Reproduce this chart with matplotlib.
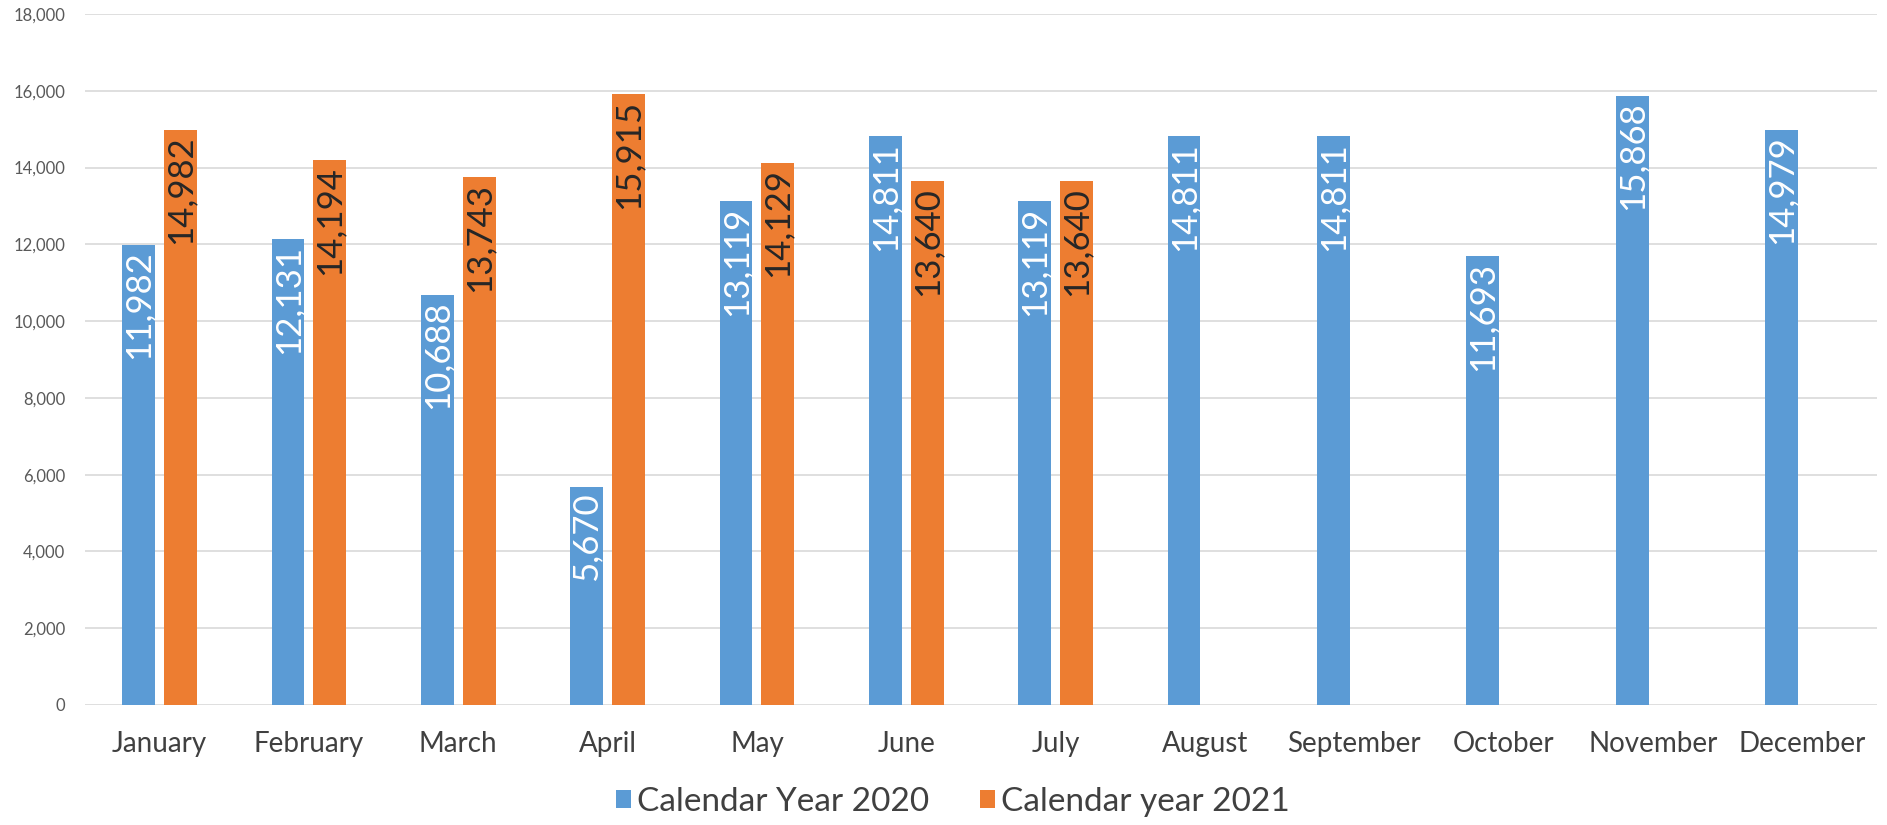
import numpy as np
import matplotlib
matplotlib.use("Agg")
import matplotlib.pyplot as plt

months = ["January", "February", "March", "April", "May", "June", "July",
          "August", "September", "October", "November", "December"]
year_2020 = [11982, 12131, 10688, 5670, 13119, 14811, 13119,
             14811, 14811, 11693, 15868, 14979]
year_2021 = [14982, 14194, 13743, 15915, 14129, 13640, 13640]
yticks = [0, 2000, 4000, 6000, 8000, 10000, 12000, 14000, 16000, 18000]

blue = "#5B9BD5"
orange = "#ED7D31"
grey_text = "#595959"

plt.rcParams['font.family'] = ['Lato', 'DejaVu Sans']

fig = plt.figure(figsize=(18.87, 8.25), dpi=100)
ax = fig.add_axes([0.045, 0.1455, 0.9497, 0.8375])

x = np.arange(len(months))
w = 0.22
b1 = ax.bar(x - 0.14, year_2020, width=w, color=blue, label="Calendar Year 2020", zorder=3)
b2 = ax.bar(x[:len(year_2021)] + 0.14, year_2021, width=w, color=orange,
            label="Calendar year 2021", zorder=3)

for bars, vals, col in [(b1, year_2020, "white"), (b2, year_2021, "#262626")]:
    for r, v in zip(bars, vals):
        ax.annotate(f"{v:,}", (r.get_x() + r.get_width() / 2, v),
                    xytext=(0, -4), textcoords="offset points",
                    ha="center", va="top", rotation=90,
                    fontsize=25, color=col, zorder=4)

ax.set_xlim(-0.5, len(months) - 0.5)
ax.set_ylim(0, 18000)
ax.set_yticks(yticks)
ax.set_yticklabels([f"{t:,}" for t in yticks], fontsize=12, color=grey_text)
ax.set_xticks(x)
ax.set_xticklabels(months, fontsize=20, color="#404040")
ax.tick_params(axis="both", length=0)
ax.tick_params(axis="x", pad=19)
ax.tick_params(axis="y", pad=14)
ax.grid(axis="y", color="#D9D9D9", linewidth=1.2, zorder=0)
for s in ax.spines.values():
    s.set_visible(False)

ax.legend(loc="center", bbox_to_anchor=(0.505, 0.028), bbox_transform=fig.transFigure,
          ncol=2, frameon=False, fontsize=24, handlelength=0.45, handleheight=0.45,
          handletextpad=0.2, columnspacing=1.5, labelcolor="#404040")

fig.savefig("out.png", dpi=100, facecolor="white")
